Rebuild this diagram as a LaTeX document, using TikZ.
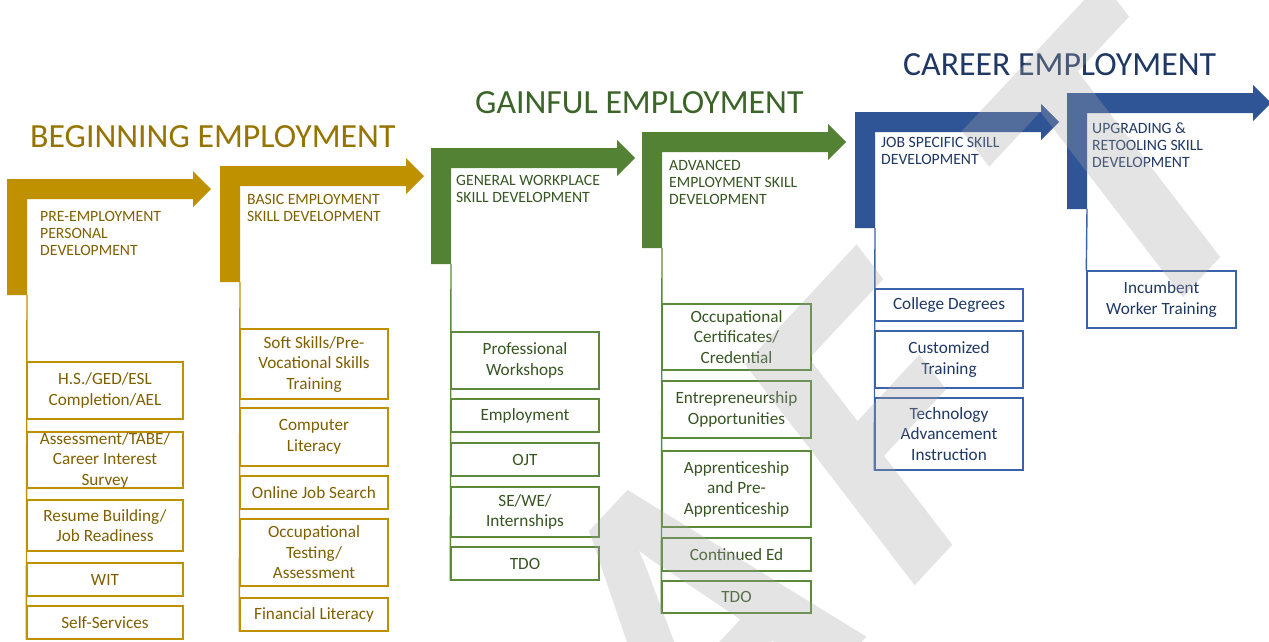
\documentclass[tikz,border=0pt]{standalone}
\usepackage{fontspec}
\setmainfont{Carlito}
\definecolor{goldfill}{HTML}{BF9000}
\definecolor{goldtxt}{HTML}{7F6000}
\definecolor{goldtitle}{HTML}{957400}
\definecolor{greenfill}{HTML}{548235}
\definecolor{greenline}{HTML}{5A8A3A}
\definecolor{greentxt}{HTML}{375623}
\definecolor{greentitle}{HTML}{3B6428}
\definecolor{bluefill}{HTML}{2F5597}
\definecolor{blueline}{HTML}{3B63AC}
\definecolor{bluetxt}{HTML}{1F3864}
\definecolor{bluetitle}{HTML}{203864}
\newcommand\bendarrow[3]{%
  \begin{scope}[shift={(#2,#3)}]
    \fill[#1] (0,116) -- (0,0) -- (186,0) -- (186,-8) -- (204,10) -- (186,28) -- (186,20) -- (20,20) -- (20,116) -- cycle;
  \end{scope}}
\begin{document}
\begin{tikzpicture}[x=1pt,y=-1pt,
  box/.style={draw, line width=1.4pt, inner sep=0pt, align=center,
    font={\fontsize{17.2}{20.5}\selectfont}},
  gbox/.style={box, draw=goldfill, text=goldtxt},
  nbox/.style={box, draw=greenline, text=greentxt},
  bbox/.style={box, draw=blueline, text=bluetxt},
  hdr/.style={inner sep=0pt, align=left, anchor=north west,
    font={\fontsize{15.7}{17}\selectfont}},
  ttl/.style={inner sep=0pt, anchor=base west,
    font={\fontsize{33.8}{40}\selectfont}},
  vline/.style={line width=1.4pt},
  wm/.style={inner sep=0pt, text=black!35, opacity=0.3, anchor=base west,
    font={\fontsize{430}{430}\selectfont\bfseries}}]
\useasboundingbox (0,0) rectangle (1269,641);
\fill[white] (0,0) rectangle (1269,641);

% titles
\node[ttl, text=goldtitle] (t1) at (30,147) {BEGINNING EMPLOYMENT};
\node[ttl, text=greentitle] (t2) at (475,113) {GAINFUL EMPLOYMENT};
\node[ttl, text=bluetitle] (t3) at (903,75) {CAREER EMPLOYMENT};

% bent arrows
\bendarrow{goldfill}{7}{179}
\bendarrow{goldfill}{220}{166}
\bendarrow{greenfill}{431}{148}
\bendarrow{greenfill}{642}{132}
\bendarrow{bluefill}{855}{112}
\bendarrow{bluefill}{1067}{93}

\coordinate (s1) at (27,295);
\coordinate (s2) at (240,282);
\coordinate (s3) at (451,264);
\coordinate (s4) at (662,248);
\coordinate (s5) at (875,228);
\coordinate (s6) at (1087,209);

% headers
\node[hdr, text=goldtxt] (h1) at (40,211) {PRE-EMPLOYMENT\\PERSONAL\\DEVELOPMENT};
\node[hdr, text=goldtxt] (h2) at (247,194) {BASIC EMPLOYMENT\\SKILL DEVELOPMENT};
\node[hdr, text=greentxt] (h3) at (456,175) {GENERAL WORKPLACE\\SKILL DEVELOPMENT};
\node[hdr, text=greentxt] (h4) at (669,160) {ADVANCED\\EMPLOYMENT SKILL\\DEVELOPMENT};
\node[hdr, text=bluetxt] (h5) at (881,137) {JOB SPECIFIC SKILL\\DEVELOPMENT};
\node[hdr, text=bluetxt] (h6) at (1092,123) {UPGRADING \&\\RETOOLING SKILL\\DEVELOPMENT};

% column 1
\node[gbox, minimum width=156, minimum height=57] (b1a) at (105,390.5) {H.S./GED/ESL\\Completion/AEL};
\node[gbox, minimum width=156, minimum height=56] (b1b) at (105,460) {Assessment/TABE/\\Career Interest\\Survey};
\node[gbox, minimum width=156, minimum height=51] (b1c) at (105,525.5) {Resume Building/\\Job Readiness};
\node[gbox, minimum width=156, minimum height=33] (b1d) at (105,579.5) {WIT};
\node[gbox, minimum width=156, minimum height=33] (b1e) at (105,622.5) {Self-Services};
% column 2
\node[gbox, minimum width=148, minimum height=70] (b2a) at (314,364) {Soft Skills/Pre-\\Vocational Skills\\Training};
\node[gbox, minimum width=148, minimum height=58] (b2b) at (314,437) {Computer\\Literacy};
\node[gbox, minimum width=148, minimum height=33] (b2c) at (314,492.5) {Online Job Search};
\node[gbox, minimum width=148, minimum height=67] (b2d) at (314,552.5) {Occupational\\Testing/\\Assessment};
\node[gbox, minimum width=148, minimum height=33] (b2e) at (314,614.5) {Financial Literacy};
% column 3
\node[nbox, minimum width=148, minimum height=57] (b3a) at (525,360.5) {Professional\\Workshops};
\node[nbox, minimum width=148, minimum height=33] (b3b) at (525,415.5) {Employment};
\node[nbox, minimum width=148, minimum height=33] (b3c) at (525,459.5) {OJT};
\node[nbox, minimum width=148, minimum height=50] (b3d) at (525,512) {SE/WE/\\Internships};
\node[nbox, minimum width=148, minimum height=33] (b3e) at (525,563.5) {TDO};
% column 4
\node[nbox, minimum width=149, minimum height=66] (b4a) at (736.5,337) {Occupational\\Certificates/\\Credential};
\node[nbox, minimum width=149, minimum height=57] (b4b) at (736.5,409.5) {Entrepreneurship\\Opportunities};
\node[nbox, minimum width=149, minimum height=76] (b4c) at (736.5,489) {Apprenticeship\\and Pre-\\Apprenticeship};
\node[nbox, minimum width=149, minimum height=33] (b4d) at (736.5,554.5) {Continued Ed};
\node[nbox, minimum width=149, minimum height=32] (b4e) at (736.5,597) {TDO};
% column 5
\node[bbox, minimum width=148, minimum height=32] (b5a) at (949,305) {College Degrees};
\node[bbox, minimum width=148, minimum height=57] (b5b) at (949,359.5) {Customized\\Training};
\node[bbox, minimum width=148, minimum height=72] (b5c) at (949,434) {Technology\\Advancement\\Instruction};
% column 6
\node[bbox, minimum width=149, minimum height=57] (b6a) at (1161.5,299.5) {Incumbent\\Worker Training};

% vertical connector lines
\draw[vline, goldfill] (s1) -- (b1e.south west);
\draw[vline, goldfill] (s2) -- (b2e.south west);
\draw[vline, greenline] (s3) -- (b3e.south west);
\draw[vline, greenline] (s4) -- (b4e.south west);
\draw[vline, blueline] (s5) -- (b5c.south west);
\draw[vline, blueline] (s6) -- (b6a.north west);

% watermark
\begin{scope}
\clip (0,0) rectangle (1269,641);
\node[wm, cm={0.682,0.731,-0.609,0.793,(0,0)}] (wm) at (305,1239) {D\kern25pt R\kern25pt A\kern48pt F\kern140pt T};
\end{scope}
\end{tikzpicture}
\end{document}
